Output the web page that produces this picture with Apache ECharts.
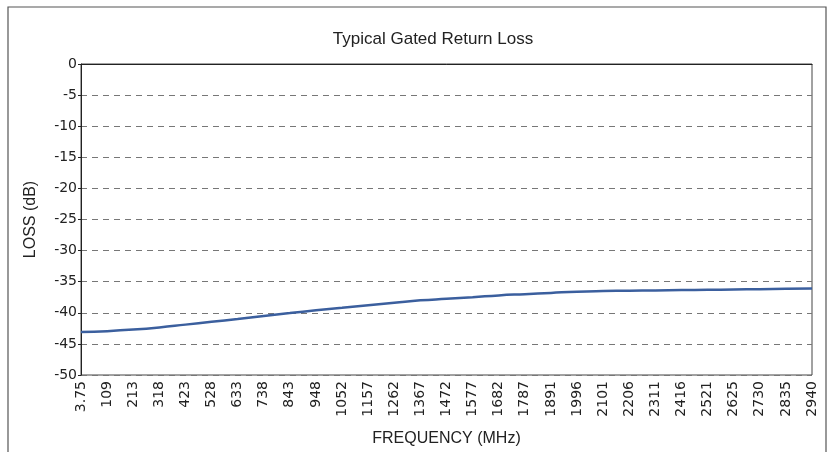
<!DOCTYPE html>
<html>
<head>
<meta charset="utf-8">
<script src="https://cdn.jsdelivr.net/npm/echarts@6/dist/echarts.min.js"></script>
<style>
  html, body { margin: 0; padding: 0; background: #fff; }
  #chart { width: 830px; height: 452px; }
</style>
</head>
<body>
<div id="chart"></div>
<script>
// Frequency points (MHz) along the sweep
const frequencies = ['3.75', '109', '213', '318', '423', '528', '633', '738', '843', '948',
  '1052', '1157', '1262', '1367', '1472', '1577', '1682', '1787', '1891', '1996',
  '2101', '2206', '2311', '2416', '2521', '2625', '2730', '2835', '2940'];

// Gated return loss (dB) at each frequency point
const returnLoss = [-43.1, -42.95, -42.7, -42.35, -41.9, -41.45, -41.0, -40.5, -40.05, -39.6,
  -39.2, -38.8, -38.4, -38.0, -37.75, -37.5, -37.2, -37.0, -36.8, -36.6,
  -36.5, -36.45, -36.4, -36.35, -36.3, -36.25, -36.2, -36.15, -36.1];

// Y axis range and step
const yMin = -50;
const yMax = 0;
const yStep = 5;

const font = '"Liberation Sans", Arial, sans-serif';
const tickFont = '"DejaVu Sans", "Liberation Sans", sans-serif';
const chart = echarts.init(document.getElementById('chart'), null, { renderer: 'canvas' });

chart.setOption({
  backgroundColor: '#ffffff',
  animation: false,
  title: {
    text: 'Typical Gated Return Loss',
    left: 428,
    top: 26,
    textAlign: 'center',
    textStyle: { fontFamily: font, fontSize: 17, fontWeight: 'normal', color: '#222' }
  },
  graphic: [{
    type: 'rect',
    shape: { x: 8, y: 7, width: 818, height: 470 },
    style: { fill: 'none', stroke: '#555', lineWidth: 1.2 },
    silent: true
  }],
  grid: {
    left: 81, right: 18, top: 64, bottom: 76,
    show: true,
    borderColor: '#444',
    borderWidth: 1,
    backgroundColor: 'transparent'
  },
  xAxis: {
    type: 'category',
    data: frequencies,
    boundaryGap: false,
    name: 'FREQUENCY (MHz)',
    nameLocation: 'middle',
    nameGap: 56,
    nameTextStyle: { fontFamily: font, fontSize: 16, color: '#222' },
    axisLine: { lineStyle: { color: '#222', width: 1 } },
    axisTick: { show: false },
    axisLabel: {
      interval: 0,
      rotate: 90,
      margin: 6,
      fontFamily: tickFont,
      fontSize: 14,
      color: '#222'
    },
    splitLine: { show: false }
  },
  yAxis: {
    type: 'value',
    min: yMin,
    max: yMax,
    interval: yStep,
    name: 'LOSS (dB)',
    nameLocation: 'middle',
    nameGap: 42,
    nameRotate: 90,
    nameTextStyle: { fontFamily: font, fontSize: 16, color: '#222' },
    axisLine: { show: true, lineStyle: { color: '#222', width: 1 } },
    axisTick: { show: true, length: 3, lineStyle: { color: '#222' } },
    axisLabel: { margin: 4, fontFamily: tickFont, fontSize: 14, color: '#222' },
    splitLine: {
      show: true,
      lineStyle: { color: '#777', width: 1, type: [6, 5] }
    }
  },
  series: [{
    type: 'line',
    data: returnLoss,
    smooth: true,
    showSymbol: false,
    lineStyle: { color: '#3b5f9e', width: 2.5 }
  }]
});
</script>
</body>
</html>
